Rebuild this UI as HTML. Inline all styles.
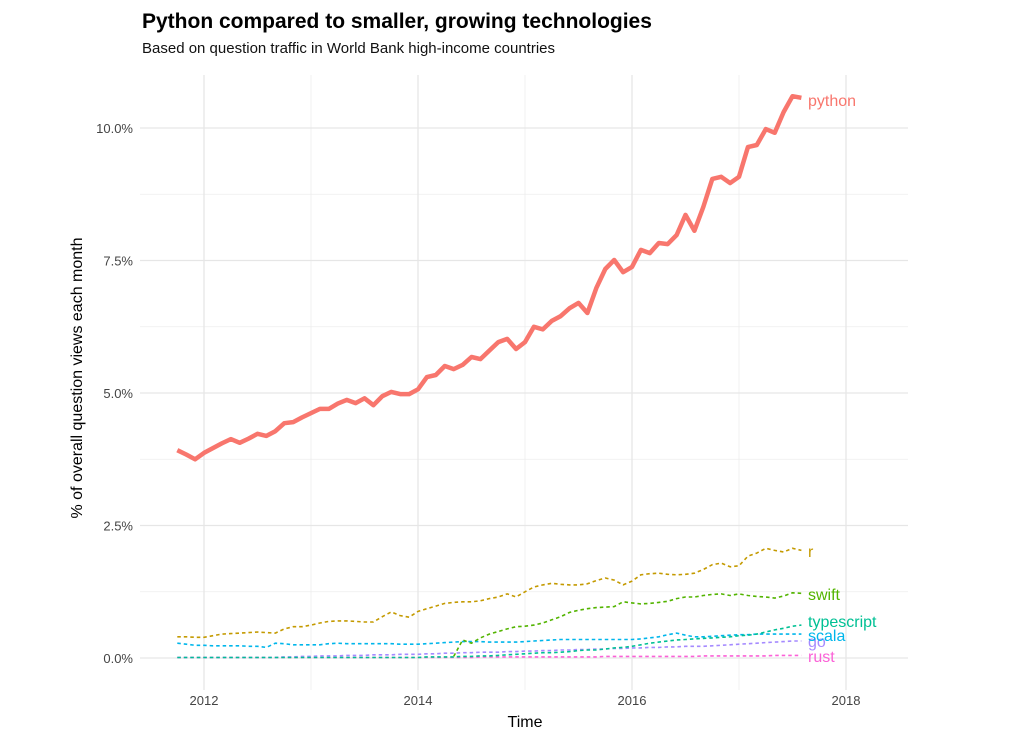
<!DOCTYPE html>
<html><head><meta charset="utf-8"><style>
body{margin:0;background:#fff;}
svg{display:block;font-family:"Liberation Sans Narrow","Liberation Sans",sans-serif;}
</style></head><body>
<svg id="chart" width="1036" height="737" viewBox="0 0 1036 737">
<text x="142" y="28" font-family="Liberation Sans" font-weight="bold" font-size="21" fill="#000">Python compared to smaller, growing technologies</text>
<text x="142" y="53" font-size="15" fill="#111">Based on question traffic in World Bank high-income countries</text>
<g id="grid"></g>
<g id="axes"></g>
<g id="series"></g>
<text transform="translate(82,378) rotate(-90)" text-anchor="middle" font-size="16" fill="#000">% of overall question views each month</text>
<text x="525" y="727" text-anchor="middle" font-size="16" fill="#000">Time</text>
</svg>
<script>
const startYear = 2011.75; // Oct 2011, monthly
const python = [3.92,3.84,3.75,3.87,3.96,4.05,4.13,4.06,4.14,4.23,4.19,4.28,4.43,4.45,4.54,4.62,4.70,4.70,4.80,4.87,4.81,4.90,4.77,4.94,5.02,4.98,4.98,5.07,5.30,5.34,5.51,5.45,5.53,5.68,5.64,5.80,5.96,6.02,5.83,5.96,6.25,6.20,6.36,6.45,6.60,6.70,6.51,6.98,7.34,7.51,7.28,7.38,7.70,7.64,7.83,7.81,7.98,8.36,8.06,8.51,9.04,9.08,8.96,9.08,9.64,9.68,9.98,9.91,10.30,10.60,10.57];
const rLang = [0.40,0.40,0.39,0.39,0.42,0.45,0.46,0.47,0.48,0.49,0.48,0.47,0.55,0.59,0.59,0.62,0.66,0.69,0.70,0.70,0.69,0.68,0.68,0.78,0.87,0.80,0.77,0.88,0.93,0.98,1.03,1.05,1.06,1.06,1.08,1.12,1.15,1.21,1.15,1.25,1.34,1.38,1.41,1.39,1.38,1.38,1.40,1.46,1.51,1.47,1.38,1.45,1.57,1.59,1.60,1.58,1.57,1.58,1.60,1.67,1.76,1.79,1.72,1.74,1.92,1.98,2.07,2.03,2.00,2.07,2.03];
const swift = [null,null,null,null,null,null,null,null,null,null,null,null,null,null,null,null,null,null,null,null,null,null,null,null,null,null,null,null,null,null,null,0.03,0.34,0.28,0.38,0.45,0.50,0.55,0.59,0.60,0.62,0.66,0.72,0.78,0.86,0.90,0.93,0.95,0.96,0.97,1.06,1.04,1.02,1.03,1.05,1.07,1.12,1.15,1.15,1.18,1.20,1.21,1.18,1.21,1.18,1.16,1.15,1.13,1.17,1.23,1.22];
const typescript = [0.01,0.01,0.01,0.01,0.01,0.01,0.01,0.01,0.01,0.01,0.01,0.01,0.01,0.01,0.01,0.01,0.01,0.01,0.01,0.01,0.01,0.01,0.01,0.01,0.01,0.01,0.01,0.01,0.02,0.02,0.02,0.02,0.03,0.03,0.04,0.04,0.05,0.06,0.07,0.08,0.09,0.10,0.10,0.11,0.12,0.14,0.15,0.15,0.17,0.19,0.20,0.22,0.25,0.28,0.30,0.32,0.34,0.35,0.36,0.37,0.38,0.39,0.40,0.42,0.43,0.45,0.49,0.53,0.56,0.60,0.62];
const scala = [0.28,0.26,0.24,0.24,0.23,0.23,0.23,0.23,0.22,0.22,0.20,0.28,0.27,0.25,0.25,0.25,0.25,0.27,0.28,0.27,0.27,0.27,0.27,0.27,0.27,0.26,0.26,0.26,0.27,0.28,0.29,0.30,0.31,0.31,0.31,0.30,0.30,0.30,0.30,0.31,0.32,0.33,0.34,0.35,0.35,0.35,0.35,0.35,0.35,0.35,0.35,0.35,0.36,0.38,0.40,0.44,0.47,0.43,0.40,0.40,0.41,0.42,0.43,0.44,0.44,0.45,0.45,0.45,0.45,0.45,0.45];
const go = [0.01,0.01,0.01,0.01,0.01,0.01,0.01,0.01,0.01,0.01,0.01,0.01,0.02,0.02,0.03,0.03,0.04,0.04,0.04,0.05,0.05,0.05,0.06,0.06,0.06,0.07,0.07,0.07,0.08,0.08,0.09,0.09,0.10,0.10,0.11,0.11,0.11,0.12,0.12,0.13,0.13,0.14,0.14,0.15,0.15,0.16,0.16,0.17,0.17,0.18,0.18,0.19,0.19,0.20,0.20,0.21,0.21,0.22,0.22,0.22,0.23,0.24,0.25,0.26,0.27,0.28,0.29,0.30,0.31,0.32,0.32];
const rust = [0.01,0.01,0.01,0.01,0.01,0.01,0.01,0.01,0.01,0.01,0.01,0.01,0.01,0.01,0.01,0.01,0.01,0.01,0.01,0.01,0.01,0.01,0.01,0.01,0.01,0.01,0.01,0.01,0.01,0.01,0.01,0.01,0.01,0.01,0.02,0.02,0.02,0.02,0.02,0.02,0.02,0.02,0.02,0.02,0.02,0.02,0.02,0.02,0.03,0.03,0.03,0.03,0.03,0.03,0.03,0.03,0.03,0.03,0.03,0.04,0.04,0.04,0.04,0.04,0.04,0.04,0.04,0.05,0.05,0.05,0.05];
const yTicks = [0, 2.5, 5, 7.5, 10];
const yTickLabels = ["0.0%","2.5%","5.0%","7.5%","10.0%"];
const xTicks = [2012, 2014, 2016, 2018];
const xTickLabels = ["2012","2014","2016","2018"];

const NS = "http://www.w3.org/2000/svg";
const X = yr => 204 + (yr - 2012) * 107;
const Y = v => 658 - v * 53;
const L = 140, R = 908, T = 75, B = 690;
function mk(tag, parent, attrs){const e=document.createElementNS(NS,tag);for(const k in attrs)e.setAttribute(k,attrs[k]);parent.appendChild(e);return e;}
const grid = document.getElementById('grid'), axes = document.getElementById('axes'), ser = document.getElementById('series');
for (let v=-1.25; v<=12; v+=2.5){const y=Y(v); if(y<T||y>B) continue;
  const l=mk('line',grid,{x1:L,x2:R,y1:y,y2:y,stroke:'#ededed','stroke-width':0.8});
  
  }
for (let yr=2011; yr<=2019; yr+=2){const x=X(yr); if(x<L||x>R) continue;
  const l=mk('line',grid,{x1:x,x2:x,y1:T,y2:B,stroke:'#ededed','stroke-width':0.8});
  
  }
yTicks.forEach((v,i)=>{const y=Y(v);
  const l=mk('line',grid,{x1:L,x2:R,y1:y,y2:y,stroke:'#e6e6e6','stroke-width':1.3});
  
  
  const t=mk('text',axes,{x:133,y:y+5,'text-anchor':'end','font-size':13,fill:'#444'});
  t.textContent=yTickLabels[i];
  
  });
xTicks.forEach((yr,i)=>{const x=X(yr);
  const l=mk('line',grid,{x1:x,x2:x,y1:T,y2:B,stroke:'#e6e6e6','stroke-width':1.3});
  
  
  const t=mk('text',axes,{x:x,y:705,'text-anchor':'middle','font-size':13,fill:'#444'});
  t.textContent=xTickLabels[i];
  
  });

const seriesList = [
  {name:'rust', data:rust, color:'#FB61D7', label:'rust', ly:662},
  {name:'go', data:go, color:'#A58AFF', label:'go', ly:647},
  {name:'scala', data:scala, color:'#00B6EB', label:'scala', ly:641},
  {name:'typescript', data:typescript, color:'#00C094', label:'typescript', ly:627},
  {name:'swift', data:swift, color:'#53B400', label:'swift', ly:600},
  {name:'r', data:rLang, color:'#C49A00', label:'r', ly:557},
  {name:'python', data:python, color:'#F8766D', label:'python', ly:106}
];
seriesList.forEach(s=>{
  let d='', pen=false;
  s.data.forEach((v,i)=>{ if(v==null){pen=false;return;}
    const x=X(startYear+i/12), y=Y(v);
    d += (pen?'L':'M')+x.toFixed(1)+' '+y.toFixed(1)+' '; pen=true;});
  const isPy = s.name==='python';
  const p=mk('path',ser,{d:d,fill:'none',stroke:s.color,'stroke-width':isPy?4.5:1.6,'stroke-linejoin':'round','stroke-dasharray':isPy?'none':'3.5 3'});
  
  
  const t=mk('text',ser,{x:808,y:s.ly,'font-size':16,fill:s.color});
  t.textContent=s.label;
  
  
});
</script>
</body></html>
